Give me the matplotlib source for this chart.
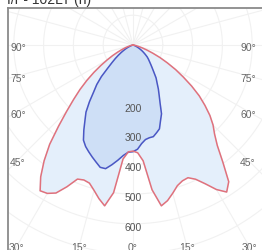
import numpy as np
import matplotlib
matplotlib.use('Agg')
import matplotlib.pyplot as plt

plt.rcParams['font.family'] = ['Liberation Sans', 'DejaVu Sans']

# gamma angles (deg) and luminous intensity (cd/klm) for each half plane
angles = [0, 2.5, 5, 7.5, 10, 12.5, 15, 17.5, 20, 22.5, 25, 27.5, 30, 32.5, 35, 37.5,
          40, 42.5, 45, 47.5, 50, 52.5, 55, 57.5, 60, 62.5, 65, 67.5, 70, 72.5, 75,
          77.5, 80, 82.5, 85, 87.5, 90]
c0 = [356, 362, 390, 490, 548, 535, 515, 495, 485, 482, 497, 525, 560, 585, 560, 495,
      440, 405, 380, 350, 315, 280, 240, 200, 165, 130, 100, 72, 50, 33, 20,
      12, 6, 3, 1, 0, 0]
c180 = [356, 359, 384, 500, 548, 528, 505, 486, 482, 487, 525, 560, 575, 580, 540, 490,
        435, 370, 315, 270, 232, 195, 160, 128, 100, 77, 57, 41, 28, 18, 11,
        6, 3, 1, 0, 0, 0]
c90 = [358, 350, 332, 320, 316, 315, 305, 295, 270, 250, 215, 190, 170, 150, 135, 115,
       100, 88, 78, 70, 62, 52, 43, 35, 27, 20, 14, 9, 5, 3, 2,
       1, 0, 0, 0, 0, 0]
c270 = [358, 360, 372, 390, 408, 425, 425, 412, 400, 388, 376, 360, 330, 300, 275, 240,
        205, 180, 150, 115, 92, 75, 60, 47, 36, 27, 19, 12, 7, 4, 2,
        1, 0, 0, 0, 0, 0]

ring_values = [100, 200, 300, 400, 500, 600, 700]
ring_labels = [200, 300, 400, 500, 600]
side_angles = [90, 75, 60, 45]
bottom_angles = [-30, -15, 0, 15, 30]

title = "I/r - 102LT (n)"

# pixel geometry of the crop
cx, cy, k = 133, 46, 0.298   # centre in px, px per cd


def xd(px):
    return (px - cx) / k


def yd(py):
    return -(py - cy) / k


def curve(right, left):
    th = np.radians(angles)
    r1 = np.array(right, dtype=float)
    r2 = np.array(left, dtype=float)
    x = np.concatenate([-(r2 * np.sin(th))[::-1], r1 * np.sin(th)])
    y = np.concatenate([-(r2 * np.cos(th))[::-1], -r1 * np.cos(th)])
    return x, y


fig = plt.figure(figsize=(2.62, 2.51), dpi=100)
ax = fig.add_axes([8 / 262, 1 - 258 / 251, 262 / 262, 249 / 251])
ax.set_xlim(xd(8), xd(270))
ax.set_ylim(yd(258), yd(9))
ax.set_xticks([])
ax.set_yticks([])
for side in ['right', 'bottom']:
    ax.spines[side].set_visible(False)
for side in ['left', 'top']:
    ax.spines[side].set_color('#8a8a8a')
    ax.spines[side].set_linewidth(1.3)

# grid
t = np.linspace(0, 2 * np.pi, 400)
for rv in ring_values:
    ax.plot(rv * np.cos(t), rv * np.sin(t), color='#f1f1f1', lw=0.8, zorder=1)
for a in range(0, 360, 15):
    ar = np.radians(a)
    ax.plot([0, 2000 * np.sin(ar)], [0, -2000 * np.cos(ar)], color='#f1f1f1', lw=0.8, zorder=1)

# curves
xr, yr = curve(c0, c180)
xb, yb = curve(c90, c270)
ax.fill(xr, yr, color='#e4effb', zorder=2)
ax.fill(xb, yb, color='#cedff6', zorder=3)
ax.plot(xb, yb, color='#4a57c4', lw=1.1, zorder=4)
ax.plot(xr, yr, color='#e0717c', lw=1.1, zorder=5)

# ring labels
for rv in ring_labels:
    ax.text(0, -rv - 10, str(rv), ha='center', va='center', fontsize=7.5,
            color='#555555', zorder=6)

# angle labels
half_w = 115 / k
for a in side_angles:
    yy = -half_w / np.tan(np.radians(a)) if a != 90 else 0
    for s in [-1, 1]:
        ax.text(s * half_w, yy - 8, f"{a}°", ha='center', va='center', fontsize=7.5,
                color='#666666', zorder=6)
depth = 202 / k
for a in bottom_angles:
    ax.text(depth * np.tan(np.radians(a)), -depth, f"{abs(a)}°", ha='center', va='center',
            fontsize=7.5, color='#666666', zorder=6)

fig.text(7 / 262, 1 - 4 / 251, title, ha='left', va='baseline', fontsize=10, color='#333333')

fig.savefig('out.png', dpi=100)
